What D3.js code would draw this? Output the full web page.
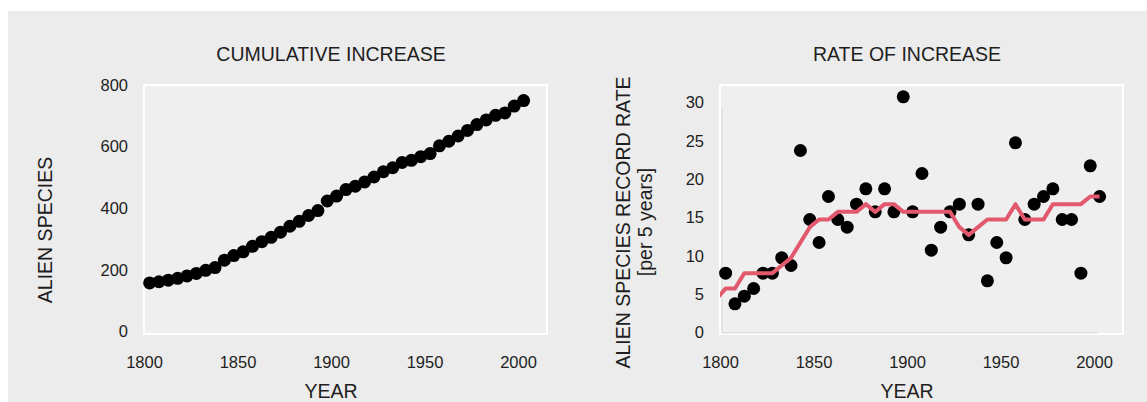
<!DOCTYPE html>
<html>
<head>
<meta charset="utf-8">
<script src="https://cdn.jsdelivr.net/npm/d3@7"></script>
<style>
	body { margin: 0; background: #ffffff; }
	text { font-family: "Liberation Sans", Arial, Helvetica, sans-serif; fill: #1e1e1e; }
</style>
</head>
<body>
<div id="view"></div>
<script>

// years (mid points of 5-year bins)
var years= [1803, 1808, 1813, 1818, 1823, 1828, 1833, 1838, 1843, 1848,
	1853, 1858, 1863, 1868, 1873, 1878, 1883, 1888, 1893, 1898,
	1903, 1908, 1913, 1918, 1923, 1928, 1933, 1938, 1943, 1948,
	1953, 1958, 1963, 1968, 1973, 1978, 1983, 1988, 1993, 1998, 2003];

var cumulative= [164, 168, 173, 179, 187, 195, 205, 214, 238, 253,
	265, 283, 298, 312, 329, 348, 364, 383, 399, 430,
	446, 467, 478, 492, 508, 525, 538, 555, 562, 574,
	584, 609, 624, 641, 659, 678, 693, 708, 716, 738, 756];

var rate= [8, 4, 5, 6, 8, 8, 10, 9, 24, 15,
	12, 18, 15, 14, 17, 19, 16, 19, 16, 31,
	16, 21, 11, 14, 16, 17, 13, 17, 7, 12,
	10, 25, 15, 17, 18, 19, 15, 15, 8, 22, 18];

// smoothed rate (red line), first point lies left of the plot and is clipped
var trend_years= [1798, 1803, 1808, 1813, 1818, 1823, 1828, 1833, 1838, 1843,
	1848, 1853, 1858, 1863, 1868, 1873, 1878, 1883, 1888, 1893,
	1898, 1903, 1908, 1913, 1918, 1923, 1928, 1933, 1938, 1943,
	1948, 1953, 1958, 1963, 1968, 1973, 1978, 1983, 1988, 1993, 1998, 2003];
var trend= [4.6, 6, 6, 8, 8, 8, 8, 9, 10, 12,
	14, 15, 15, 16, 16, 16, 17, 16, 17, 17,
	16, 16, 16, 16, 16, 16, 14, 13, 14, 15,
	15, 15, 17, 15, 15, 15, 17, 17, 17, 17, 18, 18];

var x_ticks= [1800, 1850, 1900, 1950, 2000];
var cum_ticks= [0, 200, 400, 600, 800];
var rate_ticks= [0, 5, 10, 15, 20, 25, 30];

var width= 1147;
var height= 402;

var svg= d3.select("#view")
		.append("svg")
		.attr("width", width)
		.attr("height", height);

svg.append("rect")
	.attr("x", 8)
	.attr("y", 11)
	.attr("width", width- 8)
	.attr("height", height- 11)
	.attr("fill", "#ececec");

function draw_panel(cfg) {

	var g= svg.append("g");

	var x= d3.scaleLinear().domain([1800, 2000]).range([cfg.left, cfg.left+ 374]);
	var y= d3.scaleLinear().domain([0, cfg.y_max]).range([cfg.y0, cfg.y1]);

	g.append("rect")
		.attr("x", cfg.left)
		.attr("y", 85)
		.attr("width", 403)
		.attr("height", 249)
		.attr("fill", "#efefef")
		.attr("stroke", "#ffffff")
		.attr("stroke-width", 2);

	if (cfg.faint) {
		g.append("line")
			.attr("x1", x(1800)+ 2).attr("x2", x(1800)+ 2)
			.attr("y1", y(29.6)).attr("y2", y(0)- 1.5)
			.attr("stroke", "#d8d8d8").attr("stroke-width", 1);
		g.append("line")
			.attr("x1", x(1800)+ 2).attr("x2", x(2002))
			.attr("y1", y(0)- 1.5).attr("y2", y(0)- 1.5)
			.attr("stroke", "#d8d8d8").attr("stroke-width", 1);
	}

	// axes
	var y_axis= g.append("g")
		.attr("transform", "translate(" + cfg.left + ",0)")
		.call(d3.axisLeft(y).tickValues(cfg.y_ticks).tickSize(0).tickPadding(16));
	var x_axis= g.append("g")
		.attr("transform", "translate(0," + 334 + ")")
		.call(d3.axisBottom(x).tickValues(x_ticks).tickSize(0).tickPadding(22).tickFormat(d3.format("d")));

	[y_axis, x_axis].forEach(function(a) {
		a.select(".domain").remove();
		a.selectAll("text")
			.style("font-size", "16.5px")
			.style("fill", "#1e1e1e")
			.style("font-family", "'Liberation Sans', Arial, sans-serif");
	});
	y_axis.selectAll("text").attr("dy", "0.2em");

	// points
	g.selectAll("circle.pt")
		.data(cfg.values)
		.enter()
		.append("circle")
			.attr("class", "pt")
			.attr("cx", function(d, i) { return x(years[i]); })
			.attr("cy", function(d) { return y(d); })
			.attr("r", 6.5)
			.attr("fill", "#000000");

	if (cfg.line) {
		var clip_id= "clip_" + cfg.left;
		svg.append("clipPath")
			.attr("id", clip_id)
			.append("rect")
				.attr("x", cfg.left)
				.attr("y", 85)
				.attr("width", 403)
				.attr("height", 249);

		var line= d3.line()
			.x(function(d, i) { return x(trend_years[i]); })
			.y(function(d) { return y(d); });

		g.append("path")
			.datum(cfg.line)
			.attr("clip-path", "url(#" + clip_id + ")")
			.attr("d", line)
			.attr("fill", "none")
			.attr("stroke", "#e2596e")
			.attr("stroke-width", 4)
			.attr("stroke-linejoin", "round");
	}

	// titles
	g.append("text")
		.attr("x", x(1900))
		.attr("y", 61)
		.attr("text-anchor", "middle")
		.style("font-size", "19.5px")
		.text(cfg.title);

	g.append("text")
		.attr("x", x(1900))
		.attr("y", 398)
		.attr("text-anchor", "middle")
		.style("font-size", "19.5px")
		.text("YEAR");

	cfg.y_label.forEach(function(lbl) {
		g.append("text")
			.attr("transform", "translate(" + lbl[1] + "," + lbl[2] + ") rotate(-90)")
			.attr("text-anchor", "middle")
			.style("font-size", "19.5px")
			.text(lbl[0]);
	});
}

draw_panel({
	left: 144,
	y_max: 800,
	y0: 333.5,
	y1: 87,
	y_ticks: cum_ticks,
	values: cumulative,
	title: "CUMULATIVE INCREASE",
	y_label: [["ALIEN SPECIES", 52, 230]],
	faint: false,
	line: null
});

draw_panel({
	left: 720,
	y_max: 30,
	y0: 334.5,
	y1: 104.5,
	y_ticks: rate_ticks,
	values: rate,
	title: "RATE OF INCREASE",
	y_label: [["ALIEN SPECIES RECORD RATE", 630, 222.5], ["[per 5 years]", 652, 222]],
	faint: true,
	line: trend
});

</script>
</body>
</html>
